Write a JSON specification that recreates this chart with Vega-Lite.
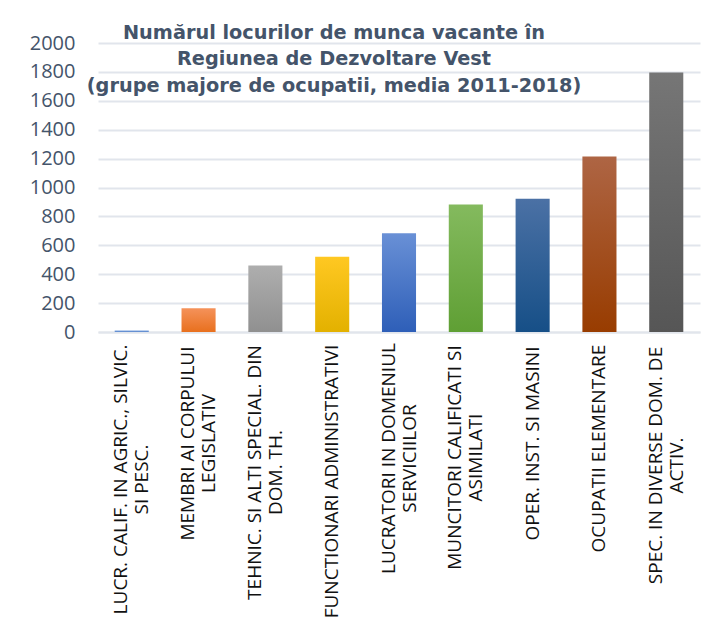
{
  "$schema": "https://vega.github.io/schema/vega-lite/v6.json",
  "width": 602,
  "height": 289,
  "autosize": {"type": "none"},
  "padding": {"left": 98, "top": 43, "right": 17, "bottom": 296},
  "background": "white",
  "title": {
    "text": ["Numărul locurilor de munca vacante în", "Regiunea de Dezvoltare Vest", "(grupe majore de ocupatii, media 2011-2018)"],
    "font": "DejaVu Sans",
    "fontSize": 19.3,
    "fontWeight": "bold",
    "color": "#44546A",
    "lineHeight": 26.5,
    "anchor": "middle",
    "frame": "group",
    "baseline": "top",
    "offset": 22,
    "dx": -65,
    "dy": 85
  },
  "data": {
    "values": [
      {"cat": "LUCR. CALIF. IN AGRIC.,  SILVIC.|SI PESC.", "value": 10},
      {"cat": "MEMBRI AI CORPULUI|LEGISLATIV", "value": 164},
      {"cat": "TEHNIC. SI ALTI SPECIAL. DIN|DOM. TH.", "value": 460},
      {"cat": "FUNCTIONARI ADMINISTRATIVI", "value": 520},
      {"cat": "LUCRATORI IN DOMENIUL|SERVICIILOR", "value": 683},
      {"cat": "MUNCITORI CALIFICATI SI|ASIMILATI", "value": 882},
      {"cat": "OPER. INST. SI MASINI", "value": 923},
      {"cat": "OCUPATII ELEMENTARE", "value": 1214},
      {"cat": "SPEC. IN DIVERSE DOM. DE|ACTIV.", "value": 1795}
    ]
  },
  "mark": {"type": "bar"},
  "encoding": {
    "x": {
      "field": "cat",
      "type": "nominal",
      "sort": null,
      "scale": {"paddingInner": 0.49, "paddingOuter": 0.25},
      "axis": {
        "title": null,
        "labelExpr": "split(datum.value, '|')",
        "labelAngle": 270,
        "labelAlign": "center",
        "labelBaseline": "middle",
        "labelFont": "Open Sans",
        "labelFontSize": 19,
        "labelLineHeight": 21,
        "labelColor": "#111111",
        "labelOffset": {"condition": {"test": "indexof(datum.value, '|') >= 0", "value": -10.5}, "value": 0},
        "labelPadding": {
          "condition": [
            {"test": "indexof(datum.value, 'LUCR. CALIF') == 0", "value": 147},
            {"test": "indexof(datum.value, 'MEMBRI') == 0", "value": 111},
            {"test": "indexof(datum.value, 'TEHNIC') == 0", "value": 140},
            {"test": "indexof(datum.value, 'FUNCTIONARI') == 0", "value": 149},
            {"test": "indexof(datum.value, 'LUCRATORI') == 0", "value": 126},
            {"test": "indexof(datum.value, 'MUNCITORI') == 0", "value": 125},
            {"test": "indexof(datum.value, 'OPER') == 0", "value": 111},
            {"test": "indexof(datum.value, 'OCUPATII') == 0", "value": 116}
          ],
          "value": 133
        },
        "labelLimit": 0,
        "ticks": false,
        "domain": true,
        "domainColor": "#E1E5EC",
        "domainWidth": 2,
        "grid": false
      }
    },
    "y": {
      "field": "value",
      "type": "quantitative",
      "scale": {"domain": [0, 2000], "nice": false},
      "axis": {
        "title": null,
        "format": "d",
        "values": [0, 200, 400, 600, 800, 1000, 1200, 1400, 1600, 1800, 2000],
        "labelFont": "Open Sans",
        "labelFontSize": 20,
        "labelColor": "#44546A",
        "labelPadding": 23,
        "ticks": false,
        "domain": false,
        "grid": true,
        "gridColor": "#E1E5EC",
        "gridWidth": 2
      }
    },
    "color": {
      "condition": [
        {"test": "indexof(datum.cat, 'LUCR. CALIF') == 0", "value": {"gradient": "linear", "x1": 0, "y1": 0, "x2": 0, "y2": 1, "stops": [{"offset": 0, "color": "#7BA3DE"}, {"offset": 1, "color": "#5A86CC"}]}},
        {"test": "indexof(datum.cat, 'MEMBRI') == 0", "value": {"gradient": "linear", "x1": 0, "y1": 0, "x2": 0, "y2": 1, "stops": [{"offset": 0, "color": "#F5925A"}, {"offset": 1, "color": "#E8701E"}]}},
        {"test": "indexof(datum.cat, 'TEHNIC') == 0", "value": {"gradient": "linear", "x1": 0, "y1": 0, "x2": 0, "y2": 1, "stops": [{"offset": 0, "color": "#AEAEAE"}, {"offset": 1, "color": "#909090"}]}},
        {"test": "indexof(datum.cat, 'FUNCTIONARI') == 0", "value": {"gradient": "linear", "x1": 0, "y1": 0, "x2": 0, "y2": 1, "stops": [{"offset": 0, "color": "#FFC822"}, {"offset": 1, "color": "#E3B100"}]}},
        {"test": "indexof(datum.cat, 'LUCRATORI') == 0", "value": {"gradient": "linear", "x1": 0, "y1": 0, "x2": 0, "y2": 1, "stops": [{"offset": 0, "color": "#6990D6"}, {"offset": 1, "color": "#2E5FB8"}]}},
        {"test": "indexof(datum.cat, 'MUNCITORI') == 0", "value": {"gradient": "linear", "x1": 0, "y1": 0, "x2": 0, "y2": 1, "stops": [{"offset": 0, "color": "#84BA5E"}, {"offset": 1, "color": "#5F9F34"}]}},
        {"test": "indexof(datum.cat, 'OPER') == 0", "value": {"gradient": "linear", "x1": 0, "y1": 0, "x2": 0, "y2": 1, "stops": [{"offset": 0, "color": "#4B71A5"}, {"offset": 1, "color": "#164F87"}]}},
        {"test": "indexof(datum.cat, 'OCUPATII') == 0", "value": {"gradient": "linear", "x1": 0, "y1": 0, "x2": 0, "y2": 1, "stops": [{"offset": 0, "color": "#AE6544"}, {"offset": 1, "color": "#983C00"}]}}
      ],
      "value": {"gradient": "linear", "x1": 0, "y1": 0, "x2": 0, "y2": 1, "stops": [{"offset": 0, "color": "#767676"}, {"offset": 1, "color": "#565656"}]}
    }
  },
  "config": {"view": {"stroke": null}}
}
